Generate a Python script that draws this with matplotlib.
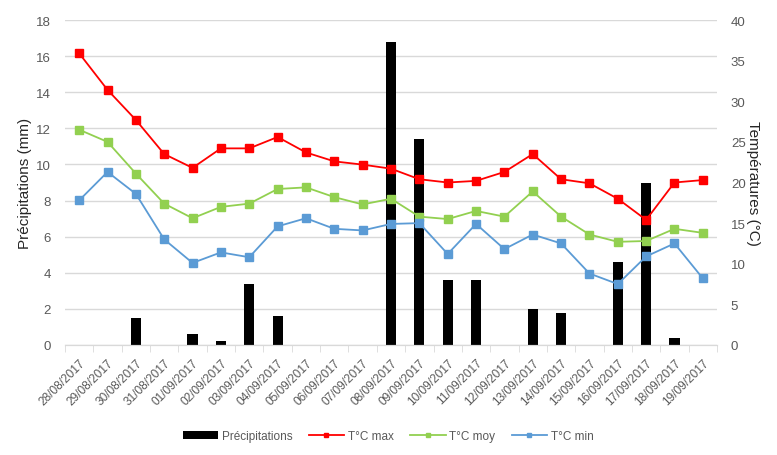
import matplotlib
matplotlib.use("Agg")
import matplotlib.pyplot as plt
import numpy as np

dates = ["28/08/2017", "29/08/2017", "30/08/2017", "31/08/2017", "01/09/2017",
         "02/09/2017", "03/09/2017", "04/09/2017", "05/09/2017", "06/09/2017",
         "07/09/2017", "08/09/2017", "09/09/2017", "10/09/2017", "11/09/2017",
         "12/09/2017", "13/09/2017", "14/09/2017", "15/09/2017", "16/09/2017",
         "17/09/2017", "18/09/2017", "19/09/2017"]
precip = [0, 0, 1.5, 0, 0.6, 0.2, 3.4, 1.6, 0, 0, 0, 16.8, 11.4, 3.6, 3.6,
          0, 2.0, 1.8, 0, 4.6, 9.0, 0.4, 0]
tmax = [35.9, 31.4, 27.7, 23.5, 21.8, 24.2, 24.2, 25.6, 23.7, 22.6, 22.2, 21.7,
        20.4, 20.0, 20.2, 21.3, 23.5, 20.4, 19.9, 18.0, 15.4, 20.0, 20.3]
tmoy = [26.5, 25.0, 21.1, 17.4, 15.6, 17.0, 17.4, 19.2, 19.4, 18.2, 17.3, 18.0,
        15.8, 15.5, 16.5, 15.8, 18.9, 15.8, 13.6, 12.7, 12.8, 14.3, 13.8]
tmin = [17.8, 21.3, 18.6, 13.0, 10.1, 11.4, 10.8, 14.6, 15.6, 14.3, 14.1, 14.9,
        15.0, 11.2, 14.9, 11.8, 13.6, 12.5, 8.8, 7.5, 10.9, 12.5, 8.2]

plt.rcParams['font.family'] = ['Liberation Sans', 'DejaVu Sans']

fig = plt.figure(figsize=(7.77, 4.56), dpi=100)
ax = fig.add_axes([65/777, 110/456, 652/777, 325/456])
ax2 = ax.twinx()

x = np.arange(len(dates))
gray = '#595959'

ax.bar(x, precip, width=0.36, color='black', label='Précipitations', zorder=2)
ax.set_ylim(0, 18)
ax.set_yticks(np.arange(0, 19, 2))
ax.set_xlim(-0.5, len(dates) - 0.5)
ax.grid(axis='y', color='#d9d9d9', linewidth=1, zorder=0)
ax.set_axisbelow(True)

ax2.plot(x, tmax, color='#ff0000', marker='s', markersize=6, linewidth=1.3, label='T°C max')
ax2.plot(x, tmoy, color='#92d050', marker='s', markersize=6, linewidth=1.3, label='T°C moy')
ax2.plot(x, tmin, color='#5b9bd5', marker='s', markersize=6, linewidth=1.3, label='T°C min')
ax2.set_ylim(0, 40)
ax2.set_yticks(np.arange(0, 41, 5))

for a in (ax, ax2):
    for s in ('top', 'left', 'right'):
        a.spines[s].set_visible(False)
    a.spines['bottom'].set_color('#d9d9d9')
    a.tick_params(axis='y', length=0, labelsize=9.5, labelcolor=gray, pad=10)

ax.set_xticks(x)
ax.set_xticklabels(dates, rotation=45, ha='right', rotation_mode='anchor',
                   fontsize=8.6, color=gray)
ax.tick_params(axis='x', length=0, pad=8)
ax.set_xticks(np.arange(-0.5, len(dates), 1), minor=True)
ax.tick_params(axis='x', which='minor', length=5, color='#d9d9d9')

ax.set_ylabel('Précipitations (mm)', fontsize=11, color='#262626', labelpad=3)
ax2.set_ylabel('Températures (°C)', fontsize=11, color='#262626', rotation=270,
               labelpad=10)

h1, l1 = ax.get_legend_handles_labels()
h2, l2 = ax2.get_legend_handles_labels()
fig.legend(h1 + h2, l1 + l2, loc='center', bbox_to_anchor=(388/777, 1 - 437/456),
           ncol=4, frameon=False, fontsize=8.5, handlelength=3.0,
           handletextpad=0.3, columnspacing=1.4, labelcolor=gray,
           markerscale=0.6)

fig.savefig('out.png', dpi=100)
